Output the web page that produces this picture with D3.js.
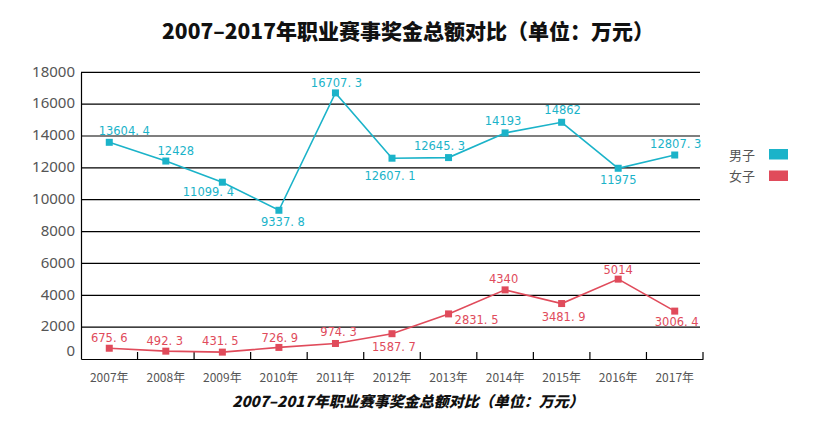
<!DOCTYPE html>
<html><head><meta charset="utf-8">
<script src="https://cdn.jsdelivr.net/npm/d3@7"></script>
<style>
body{margin:0;background:#fff;}
svg{display:block;}
</style></head>
<body><svg id="c" width="819" height="425"></svg>
<script>
const years = ["2007年","2008年","2009年","2010年","2011年","2012年","2013年","2014年","2015年","2016年","2017年"];
const menValues = [13604.4,12428,11099.4,9337.8,16707.3,12607.1,12645.3,14193,14862,11975,12807.3];
const womenValues = [675.6,492.3,431.5,726.9,974.3,1587.7,2831.5,4340,3481.9,5014,3006.4];
const yTicks = [0,2000,4000,6000,8000,10000,12000,14000,16000,18000];
const seriesNames = ["男子","女子"];
const titleText = "2007–2017年职业赛事奖金总额对比（单位：万元）";

// label offsets (layout only)
const menLabelOff = [[15,-11],[10,-10],[-14,10],[4,12],[1,-10],[-2,18],[-9,-12],[-2,-12],[1,-12],[0,12],[1,-11]];
const womenLabelOff = [[0,-10],[-1,-10.5],[-2,-11.4],[1,-9.4],[3,-11.5],[2,13],[28,6],[-1.5,-11],[2,13],[0,-9],[2,10.6]];

const colors = ["#1bb3c9","#e04b5b"];
const svg = d3.select("#c");
const x = d3.scaleBand().domain(years).range([81,703]);
const y = d3.scaleLinear().domain([0,18000]).range([359,72.3]);

// title
svg.append("text").attr("x",408).attr("y",30).attr("text-anchor","middle")
  .attr("dominant-baseline","central")
  .style("font-family","'Noto Sans CJK SC'").style("font-weight",900).style("font-size","21px")
  .attr("fill","#111").text(titleText);

// gridlines
svg.append("g").selectAll("line").data(yTicks.filter(d=>d>0)).join("line")
  .attr("x1",81).attr("x2",700).attr("y1",d=>y(d)).attr("y2",d=>y(d))
  .attr("stroke","#000").attr("stroke-width",1.2);

// y axis
const yAxis = d3.axisLeft(y).tickValues(yTicks).tickFormat(d3.format("d")).tickSize(0).tickPadding(6);
const gy = svg.append("g").attr("transform","translate(81,0)").call(yAxis);
gy.select(".domain").attr("stroke","#000").attr("stroke-width",1.2);
gy.selectAll("text").style("font-family","'Noto Sans','Open Sans',sans-serif").style("font-size","15px")
  .attr("fill","#555").attr("dy", d=> d===0 ? "-0.25em" : "0.25em");

// x axis
const xAxis = d3.axisBottom(x).tickSize(0).tickPadding(14);
const gx = svg.append("g").attr("transform","translate(0,359)").call(xAxis);
gx.select(".domain").attr("stroke","#000").attr("stroke-width",1.2);
gx.selectAll("text").style("font-family","'Noto Sans CJK SC',sans-serif").style("font-size","12px").attr("fill","#555");
// boundary ticks pointing up
const bounds = years.slice(1).map(d=>x(d)).concat([x.range()[1]]);
svg.append("g").selectAll("line").data(bounds).join("line")
  .attr("x1",d=>d).attr("x2",d=>d).attr("y1",352).attr("y2",359)
  .attr("stroke","#000").attr("stroke-width",1.2);

function drawSeries(vals, color, offs){
  const cx = (d,i)=>x(years[i])+x.bandwidth()/2;
  const line = d3.line().x((d,i)=>cx(d,i)).y(d=>y(d));
  svg.append("path").datum(vals).attr("d",line).attr("fill","none")
    .attr("stroke",color).attr("stroke-width",1.6);
  svg.append("g").selectAll("rect").data(vals).join("rect")
    .attr("x",(d,i)=>cx(d,i)-3.5).attr("y",d=>y(d)-3.5).attr("width",7).attr("height",7)
    .attr("fill",color);
  svg.append("g").selectAll("text").data(vals).join("text")
    .attr("x",(d,i)=>cx(d,i)+offs[i][0]).attr("y",(d,i)=>y(d)+offs[i][1])
    .attr("text-anchor","middle").attr("dominant-baseline","central")
    .style("font-family","'DejaVu Sans',sans-serif").style("font-size","11.5px")
    .attr("fill",color).text(d=>String(d).replace(".",". "));
}
drawSeries(menValues, colors[0], menLabelOff);
drawSeries(womenValues, colors[1], womenLabelOff);

// legend
const lg = svg.append("g").selectAll("g").data(seriesNames).join("g")
  .attr("transform",(d,i)=>`translate(729,${154+i*21.5})`);
lg.append("text").attr("x",0).attr("y",0).attr("dominant-baseline","central")
  .style("font-family","'Noto Sans CJK SC'").style("font-size","13px").attr("fill","#555").text(d=>d);
lg.append("rect").attr("x",40).attr("y",-5).attr("width",19).attr("height",10.5)
  .attr("fill",(d,i)=>colors[i]);

// footer caption
svg.append("text").attr("x",408).attr("y",400).attr("text-anchor","middle")
  .attr("dominant-baseline","central")
  .style("font-family","'Noto Sans CJK SC'").style("font-weight",900).style("font-style","italic")
  .style("font-size","15px").attr("fill","#111").text(titleText);
</script></body></html>
